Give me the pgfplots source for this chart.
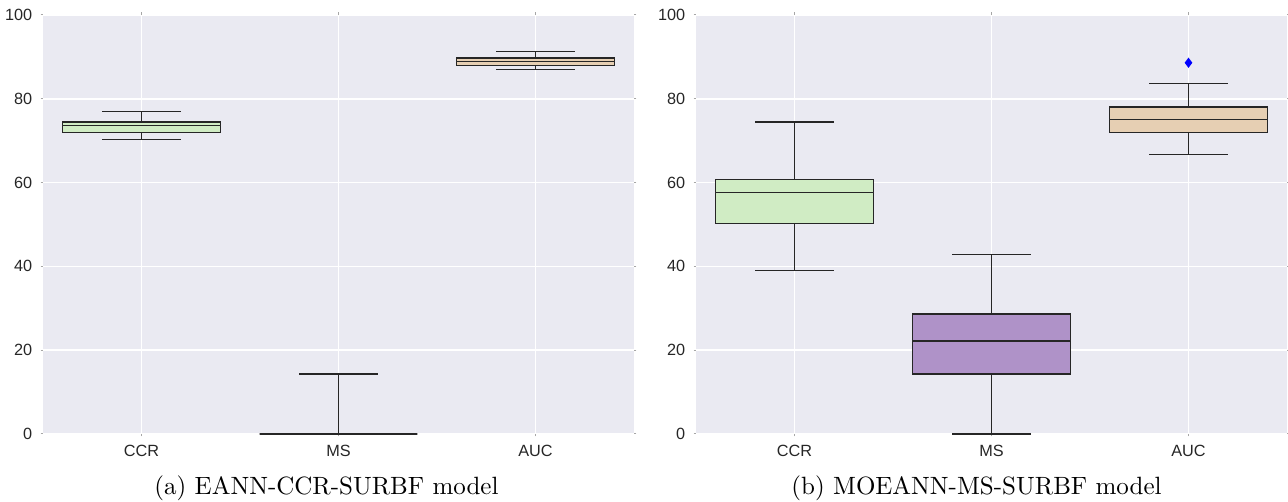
\documentclass[border=0pt]{standalone}
\usepackage{fontspec}
\usepackage{pgfplots}
\pgfplotsset{compat=1.18}
\usepgfplotslibrary{statistics}
\newfontfamily\tickfont{Liberation Sans}
\definecolor{bgc}{HTML}{EAEAF2}
\definecolor{gbox}{HTML}{D0ECC4}
\definecolor{pbox}{HTML}{AF92C8}
\definecolor{tbox}{HTML}{E6CFB3}
\definecolor{edge}{HTML}{262626}
\pgfplotsset{
  mybox/.style={
    scale only axis, width=236.4pt, height=167.6pt,
    xmin=-0.5, xmax=2.5, ymin=0, ymax=100,
    xtick={0,1,2}, xticklabels={CCR,MS,AUC},
    ytick={0,20,40,60,80,100},
    axis background/.style={fill=bgc},
    axis line style={draw=none},
    xmajorgrids, ymajorgrids,
    major grid style={white, line width=0.6pt},
    tick align=outside, major tick length=1pt,
    tick style={gray!70, line width=0.4pt},
    ticklabel style={font=\tickfont\fontsize{6.5}{7.5}\selectfont, text=black!85},
    /pgf/number format/assume math mode=true,
    yticklabel style={xshift=0.2pt},
    clip=false,
    boxplot/draw direction=y,
  },
  bx/.style={solid, draw=edge, line width=0.55pt, fill=#1, mark=diamond*, mark size=1.6pt,
    mark options={draw=blue, fill=blue},
    boxplot/box extend=0.8, boxplot/whisker extend=0.4},
}
\begin{document}
\begin{tikzpicture}
\path[use as bounding box] (0,0) rectangle (515.2pt,200.8pt);
% (a)
\begin{axis}[mybox, at={(17.2pt,27.2pt)}, anchor=south west]
\addplot+[bx=gbox, boxplot prepared={draw position=0, lower whisker=70.3, lower quartile=72.0, median=73.6, upper quartile=74.5, upper whisker=77.0}] coordinates {};
\addplot+[bx=pbox, boxplot prepared={draw position=1, lower whisker=0, lower quartile=0, median=0, upper quartile=0, upper whisker=14.3}] coordinates {};
\addplot+[bx=tbox, boxplot prepared={draw position=2, lower whisker=87.0, lower quartile=88.0, median=88.9, upper quartile=89.7, upper whisker=91.3}] coordinates {};
\end{axis}
% (b)
\begin{axis}[mybox, at={(278.4pt,27.2pt)}, anchor=south west]
\addplot+[bx=gbox, boxplot prepared={draw position=0, lower whisker=39.0, lower quartile=50.2, median=57.6, upper quartile=60.8, upper whisker=74.5}] coordinates {};
\addplot+[bx=pbox, boxplot prepared={draw position=1, lower whisker=0, lower quartile=14.3, median=22.2, upper quartile=28.6, upper whisker=42.9}] coordinates {};
\addplot+[bx=tbox, boxplot prepared={draw position=2, lower whisker=66.7, lower quartile=72.0, median=75.0, upper quartile=78.0, upper whisker=83.7}]
  table[row sep=\\, y index=0] {data\\ 88.6\\};
\end{axis}
\node[anchor=base] at (130.6pt,2.8pt) {(a) EANN-CCR-SURBF model};
\node[anchor=base] at (390.6pt,2.8pt) {(b) MOEANN-MS-SURBF model};
\end{tikzpicture}
\end{document}
